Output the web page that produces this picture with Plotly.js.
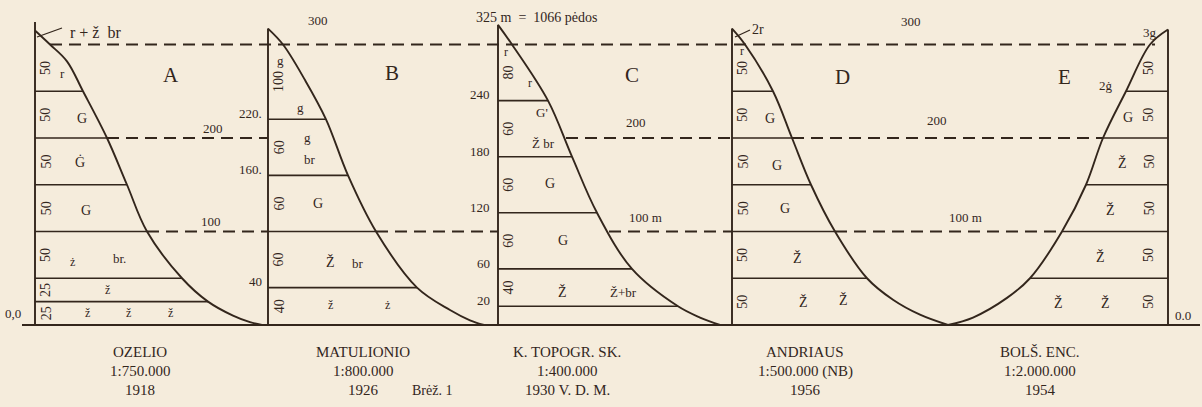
<!DOCTYPE html>
<html>
<head>
<meta charset="utf-8">
<script src="https://cdn.plot.ly/plotly-3.0.1.min.js"></script>
<style>
  html, body { margin: 0; padding: 0; background: #f4ecdd; }
  #graph { width: 1202px; height: 407px; }
</style>
</head>
<body>
<div id="graph"></div>
<script>
// Layer thicknesses (m) read from each profile, bottom to top
const layersA = [25, 25, 50, 50, 50, 50, 50]
const layersB = [40, 60, 60, 60, 100]
const layersC = [40, 60, 60, 60, 80]
const layersD = [50, 50, 50, 50, 50, 50]
const layersE = [50, 50, 50, 50, 50, 50]
const baseC = 20	// C starts its layers at 20 m

// Slope profiles: horizontal distance and elevation (m)
const curveAx = [35, 50, 67, 83, 107, 127, 147, 182, 208, 233, 250, 262]
const curveAz = [315, 300, 282, 250, 200, 150, 100, 50, 25, 10, 3, 0]
const curveBx = [268, 283, 305, 326, 348, 376, 417, 450, 470, 484]
const curveBz = [317, 300, 262, 220, 160, 100, 40, 16, 5, 0]
const curveCx = [498, 512, 548, 572, 597, 632, 678, 700, 720]
const curveCz = [321, 300, 240, 180, 120, 60, 20, 8, 0]
const curveDx = [732, 745, 773, 792, 811, 835, 867, 893, 920, 948]
const curveDz = [317, 300, 250, 200, 150, 100, 50, 27, 11, 0]
const curveEx = [948, 973, 1007, 1030, 1062, 1086, 1103, 1126, 1150, 1168]
const curveEz = [0, 8, 29, 50, 100, 150, 200, 250, 300, 316]

// Contour lines (m) and the stretches they are drawn over
const contour300 = [[50, 1155]]
const contour200 = [[107, 268], [566, 732], [792, 1103]]
const contour100 = [[147, 268], [376, 498], [609, 732], [835, 1062]]

// Tick labels at the left of B and C
const ticksB = [220, 160, 40]
const tickTextB = ["220.", "160.", "40"]
const ticksC = [240, 180, 120, 60, 20]

// Captions under each profile
const captions = [
	["OZELIO", "1:750.000", "1918"],
	["MATULIONIO", "1:800.000", "1926"],
	["K. TOPOGR. SK.", "1:400.000", "1930 V. D. M."],
	["ANDRIAUS", "1:500.000 (NB)", "1956"],
	["BOLŠ. ENC.", "1:2.000.000", "1954"],
]

const ink = '#33261c'
const paper = '#f5ecdc'
const serif = 'Liberation Serif, DejaVu Serif, serif'

// pixel row -> elevation, only used to place loose text
const z = (py) => (325 - py) / 0.935

const panels = [
	{ x: 35, top: 324, cx: curveAx, cz: curveAz, layers: layersA, base: 0, side: 1 },
	{ x: 268, top: 317, cx: curveBx, cz: curveBz, layers: layersB, base: 0, side: 1 },
	{ x: 498, top: 321, cx: curveCx, cz: curveCz, layers: layersC, base: baseC, side: 1 },
	{ x: 732, top: 317, cx: curveDx, cz: curveDz, layers: layersD, base: 0, side: 1 },
	{ x: 1168, top: 316, cx: curveEx, cz: curveEz, layers: layersE, base: 0, side: -1 },
]

let traces = []
let annotations = []

const lineTrace = (x, y, width, dash) => ({
	x, y, type: 'scatter', mode: 'lines', hoverinfo: 'skip',
	line: { color: ink, width, dash: dash || 'solid' },
})

// frame lines: verticals, layer boundaries
let vx = [], vy = [], hx = [], hy = []
panels.forEach(p => {
	vx.push(p.x, p.x, null)
	vy.push(p.top, 0, null)

	let edges = [p.base]
	p.layers.forEach(t => edges.push(edges[edges.length - 1] + t))

	// solid boundaries (all but the top one)
	edges.slice(0, -1).forEach(e => {
		if (e == 0) return
		let cxAt = p.cx[p.cz.indexOf(e)]
		hx.push(p.x, cxAt, null)
		hy.push(e, e, null)
	})

	// rotated thickness numbers
	p.layers.forEach((t, i) => {
		let lo = edges[i], hi = Math.min(edges[i + 1], 300)
		annotations.push({
			x: p.side > 0 ? p.x + 11 : p.x - 19, y: (lo + hi) / 2,
			text: String(t), textangle: -90, showarrow: false,
			font: { family: serif, size: 14, color: ink },
		})
	})

	traces.push({
		x: p.cx, y: p.cz, type: 'scatter', mode: 'lines', hoverinfo: 'skip',
		line: { color: ink, width: 1.9, shape: 'spline', smoothing: 1 },
	})
})
traces.push(lineTrace(vx, vy, 1.9))
traces.push(lineTrace(hx, hy, 1.6))

// base line
traces.push(lineTrace([22, 1200], [0, 0], 2.2))

// dashed contours
const dashed = (segs, elev) => {
	let x = [], y = []
	segs.forEach(s => { x.push(s[0], s[1], null); y.push(elev, elev, null) })
	return lineTrace(x, y, 2, '12px,7px')
}
traces.push(dashed(contour300, 300))
traces.push(dashed(contour200, 200))
traces.push(dashed(contour100, 100))

// small leaders to the top notes
traces.push(lineTrace([37, 62, null, 735, 750], [z(37), z(28), null, z(37), z(30)], 1.3))

// tick numbers left of B and C
ticksB.forEach((v, i) => annotations.push({ x: 268 - 4, y: v + 6, text: tickTextB[i], xanchor: 'right', showarrow: false, font: { family: serif, size: 13, color: ink } }))
ticksC.forEach(v => annotations.push({ x: 498 - 6, y: v + 6, text: String(v), xanchor: 'right', showarrow: false, font: { family: serif, size: 13, color: ink } }))

// loose text [x, pixel row, text, size]
const notes = [
	[95, 32, "r + ž  br", 16], [171, 75, "A", 21], [213, 128, "200", 13], [211, 221, "100", 13],
	[62, 73, "r", 13], [82, 118, "G", 14], [80, 162, "Ġ", 14], [86, 210, "G", 14],
	[72, 262, "ż", 12], [119, 258, "br.", 13], [107, 290, "ž", 12],
	[87, 313, "ž", 12], [128, 313, "ž", 12], [170, 313, "ž", 12], [13, 313, "0,0", 13],

	[318, 20, "300", 13], [392, 73, "B", 21],
	[280, 60, "g", 13], [300, 107, "g", 13], [307, 137, "g", 13], [310, 159, "br", 13],
	[318, 203, "G", 14], [330, 262, "Ž", 14], [358, 263, "br", 13], [330, 305, "ž", 12], [387, 305, "ż", 12],

	[536, 17, "325 m  =  1066 pėdos", 14], [632, 75, "C", 21], [636, 122, "200", 13], [645, 217, "100 m", 13],
	[506, 52, "r", 12], [530, 83, "r", 12], [542, 112, "G'", 13], [543, 143, "Ž br", 13],
	[550, 183, "G", 14], [563, 240, "G", 14], [562, 292, "Ž", 14], [623, 292, "Ž+br", 13],

	[758, 29, "2r", 14], [842, 77, "D", 21], [911, 21, "300", 13], [937, 120, "200", 13], [965, 217, "100 m", 13],
	[742, 51, "r", 12], [770, 118, "G", 14], [777, 165, "G", 14], [785, 208, "G", 14],
	[797, 258, "Ž", 14], [803, 302, "Ž", 14], [843, 300, "Ž", 14],

	[1150, 32, "3g", 13], [1064, 77, "E", 21], [1106, 85, "2ġ", 13], [1128, 117, "G", 14],
	[1122, 163, "Ž", 14], [1110, 210, "Ž", 14], [1100, 257, "Ž", 14],
	[1058, 303, "Ž", 14], [1105, 303, "Ž", 14], [1183, 315, "0.0", 13],

	[432, 390, "Brėž. 1", 14],
]
notes.forEach(n => annotations.push({
	x: n[0], y: z(n[1]), text: n[2], showarrow: false,
	font: { family: serif, size: n[3], color: ink },
}))

const captionX = [140, 363, 567, 805, 1040]
const captionRows = [352, 371, 390]
captions.forEach((c, i) => c.forEach((t, j) => annotations.push({
	x: captionX[i], y: z(captionRows[j]), text: t, showarrow: false,
	font: { family: serif, size: 15, color: ink },
})))

const layout = {
	width: 1202, height: 407,
	margin: { l: 0, r: 0, t: 0, b: 0 },
	paper_bgcolor: paper, plot_bgcolor: paper,
	showlegend: false,
	xaxis: { range: [0, 1202], visible: false, fixedrange: true },
	yaxis: { range: [z(407), z(0)], visible: false, fixedrange: true },
	annotations,
}

Plotly.newPlot('graph', traces, layout, { staticPlot: true, displayModeBar: false })
</script>
</body>
</html>
